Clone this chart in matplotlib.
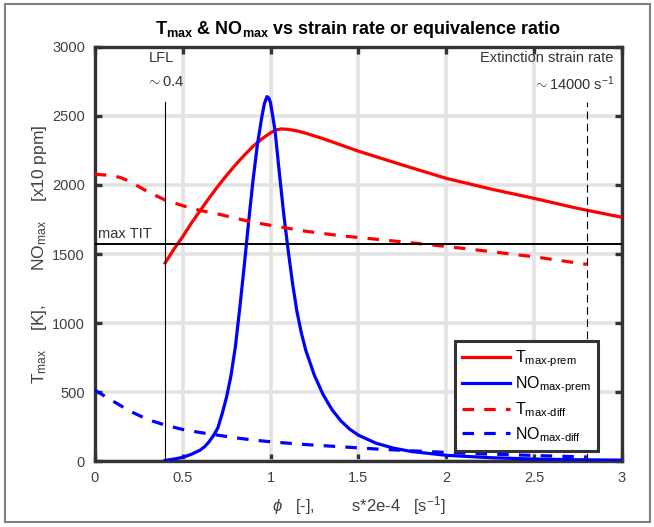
import matplotlib
matplotlib.use("Agg")
import matplotlib.pyplot as plt
from matplotlib.patches import Rectangle

plt.rcParams['font.family'] = ['Liberation Sans', 'DejaVu Sans']
plt.rcParams['mathtext.fontset'] = 'custom'
plt.rcParams['mathtext.rm'] = 'Liberation Sans'
plt.rcParams['mathtext.it'] = 'Liberation Sans:italic'
plt.rcParams['mathtext.bf'] = 'Liberation Sans:bold'

# ---- data ----
phi_T_prem = [0.4, 0.45, 0.5, 0.55, 0.6, 0.65, 0.7, 0.75, 0.8, 0.85, 0.9, 0.95, 1.0,
              1.03, 1.06, 1.1, 1.15, 1.2, 1.3, 1.4, 1.5, 1.75, 2.0, 2.25, 2.5, 2.75, 3.0]
T_prem = [1435, 1535, 1625, 1725, 1815, 1905, 1990, 2070, 2145, 2215, 2280, 2333, 2378,
          2398, 2406, 2403, 2392, 2375, 2335, 2290, 2245, 2145, 2048, 1972, 1903, 1830, 1766]

phi_NO_prem = [0.4, 0.45, 0.5, 0.55, 0.6, 0.625, 0.65, 0.675, 0.7, 0.725, 0.75, 0.775, 0.8,
               0.825, 0.85, 0.875, 0.9, 0.925, 0.95, 0.965, 0.98, 0.99, 1.0, 1.025, 1.05,
               1.075, 1.1, 1.125, 1.15, 1.175, 1.2, 1.25, 1.3, 1.35, 1.4, 1.45, 1.5, 1.6,
               1.7, 1.8, 2.0, 2.25, 2.5, 2.75, 3.0]
NO_prem = [5, 15, 27, 50, 80, 105, 140, 185, 240, 345, 465, 620, 830,
           1110, 1410, 1730, 2030, 2290, 2490, 2590, 2640, 2630, 2595, 2400, 2090,
           1790, 1530, 1290, 1085, 930, 805, 620, 480, 372, 292, 232, 188, 130,
           94, 70, 42, 25, 15, 10, 7]

s_T_diff = [0.0, 0.1, 0.15, 0.2, 0.3, 0.4, 0.5, 0.6, 0.7, 0.8, 0.9, 1.0, 1.2, 1.4, 1.5,
            1.75, 2.0, 2.25, 2.5, 2.8]
T_diff = [2078, 2068, 2052, 2025, 1952, 1891, 1850, 1815, 1790, 1760, 1730, 1708, 1665,
          1632, 1620, 1588, 1555, 1518, 1480, 1425]

s_NO_diff = [0.0, 0.1, 0.2, 0.3, 0.4, 0.5, 0.6, 0.7, 0.8, 0.9, 1.0, 1.2, 1.4, 1.6, 1.8,
             2.0, 2.2, 2.4, 2.6, 2.8]
NO_diff = [514, 437, 362, 302, 261, 229, 207, 188, 169, 153, 140, 120, 104, 88, 75,
           63, 53, 45, 37, 30]

max_TIT = 1572
LFL_phi = 0.4
ext_rate = 2.8
ref_line_top = 2600

x_ticks = [0, 0.5, 1, 1.5, 2, 2.5, 3]
x_tick_labels = ['0', '0.5', '1', '1.5', '2', '2.5', '3']
y_ticks = [0, 500, 1000, 1500, 2000, 2500, 3000]

# ---- figure ----
fig = plt.figure(figsize=(6.54, 5.27), dpi=100)
ax = fig.add_axes([0.145, 0.125, 0.806, 0.786])

ax.set_xlim(0, 3)
ax.set_ylim(0, 3000)
ax.set_xticks(x_ticks)
ax.set_xticklabels(x_tick_labels)
ax.set_yticks(y_ticks)
ax.grid(True, color='#e3e3e3', lw=2.6, zorder=0)
ax.set_axisbelow(True)
for sp in ax.spines.values():
    sp.set_linewidth(2.4)
    sp.set_color('#333333')
ax.tick_params(direction='in', length=5, width=2.4, color='#333333',
               labelsize=10.5, labelcolor='#404040', pad=7,
               top=True, right=True)

lw = 2.3
ax.plot(phi_T_prem, T_prem, color='#ff0000', lw=lw, label=r'T$_{\mathrm{max‐prem}}$', zorder=3)
ax.plot(phi_NO_prem, NO_prem, color='#0000ff', lw=lw, label=r'NO$_{\mathrm{max‐prem}}$', zorder=3)
ax.plot(s_T_diff, T_diff, color='#ff0000', lw=lw, dashes=(3.6, 3.2),
        label=r'T$_{\mathrm{max‐diff}}$', zorder=3)
ax.plot(s_NO_diff, NO_diff, color='#0000ff', lw=lw, dashes=(3.6, 3.2),
        label=r'NO$_{\mathrm{max‐diff}}$', zorder=3)

ax.axhline(max_TIT, color='black', lw=1.4, zorder=4)
ax.plot([LFL_phi, LFL_phi], [0, ref_line_top], color='black', lw=0.8, zorder=4)
ax.plot([ext_rate, ext_rate], [0, ref_line_top], color='black', lw=0.8,
        dashes=(7, 4), zorder=4)

tc = '#333333'
ax.text(0.02, max_TIT + 25, 'max TIT', fontsize=10.5, color=tc, ha='left', va='bottom')
ax.text(LFL_phi - 0.02, 2920, 'LFL', fontsize=10.5, color=tc, ha='center', va='center')
ax.text(LFL_phi, 2745, r'$\sim$0.4', fontsize=10.5, color=tc, ha='center', va='center')
ax.text(2.95, 2920, 'Extinction strain rate', fontsize=10.5, color=tc, ha='right', va='center')
ax.text(2.96, 2735, r'$\sim$14000 s$^{-1}$', fontsize=10.5, color=tc, ha='right', va='center')

ax.set_title(r'$\mathbf{T_{max}}$ & $\mathbf{NO_{max}}$ vs strain rate or equivalence ratio',
             fontsize=13, fontweight='bold', color='black', pad=9)
ax.set_xlabel(r'$\phi$   [-],        s*2e-4   [s$^{-1}$]', fontsize=12, color='#404040', labelpad=7)
ax.set_ylabel(r'T$_{\mathrm{max}}$    [K],       NO$_{\mathrm{max}}$    [x10 ppm]', fontsize=12.5,
              color='#404040', labelpad=2)

leg = ax.legend(loc='upper right', bbox_to_anchor=(0.970, 0.309), fontsize=11.5,
                handlelength=3.0, handletextpad=0.3, labelspacing=0.35,
                fancybox=False, framealpha=1, edgecolor='#333333', borderpad=0.45)
leg.get_frame().set_linewidth(2.2)

fig.patches.append(Rectangle((5 / 654, 1 - 522 / 527), 645 / 654, 518 / 527,
                             transform=fig.transFigure, fill=False,
                             edgecolor='#808080', lw=1.5))

fig.savefig('out.png', dpi=100)
